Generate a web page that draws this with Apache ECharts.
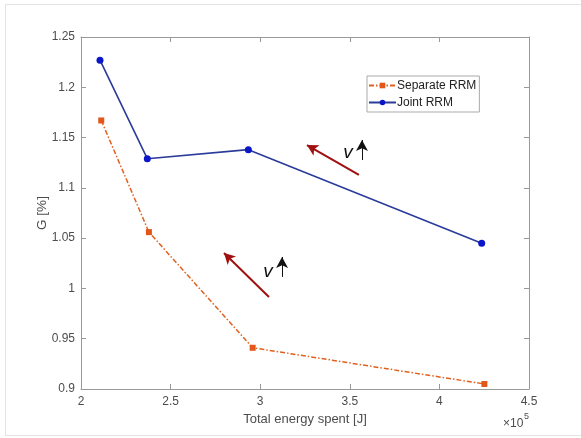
<!DOCTYPE html>
<html>
<head>
<meta charset="utf-8">
<script src="https://cdn.jsdelivr.net/npm/echarts@6/dist/echarts.min.js"></script>
<style>html,body{margin:0;padding:0;background:#fff}#c{width:581px;height:438px}</style>
</head>
<body>
<div id="c"></div>
<script>
// Data (energy in J, G in %)
const separateEnergy = [211300, 237900, 295800, 425100];
const separateG = [1.167, 1.056, 0.941, 0.905];
const jointEnergy = [210600, 237000, 293400, 423600];
const jointG = [1.227, 1.129, 1.138, 1.045];
const xTicks = ['2', '2.5', '3', '3.5', '4', '4.5'];
const yTicks = ['0.9', '0.95', '1', '1.05', '1.1', '1.15', '1.2', '1.25'];
// Annotation arrows [tail, head] in data space
const redArrows = [
  [[355100, 1.1128], [326100, 1.1426]],
  [[304900, 0.9915], [279800, 1.0352]]
];
const upArrows = [
  [[356800, 1.1277], [356800, 1.1476]],
  [[312200, 1.0114], [312200, 1.0313]]
];
const vLabels = [[349000, 1.1347], [304400, 1.0163]];

const chart = echarts.init(document.getElementById('c'));
const axisColor = '#999';
const textColor = '#4d4d4d';
const font = 'Liberation Sans, Arial, sans-serif';

const pairs = (xs, ys) => xs.map((x, i) => [x, ys[i]]);

chart.setOption({
  backgroundColor: '#fff',
  animation: false,
  textStyle: { fontFamily: font },
  grid: { left: 81, right: 52, top: 37, bottom: 49 },
  legend: {
    orient: 'vertical', left: 367, top: 76,
    padding: [3, 3, 3, 1], itemGap: 4,
    itemWidth: 27, itemHeight: 7,
    borderColor: '#aaa', borderWidth: 1, backgroundColor: '#fff',
    textStyle: { fontSize: 12, color: '#222', fontFamily: font, padding: [0, 0, 0, -4], lineHeight: 13 },
    data: ['Separate RRM', 'Joint RRM']
  },
  xAxis: [{
    type: 'value', min: 200000, max: 450000, interval: 50000,
    name: 'Total energy spent [J]', nameLocation: 'middle', nameGap: 23,
    nameTextStyle: { fontSize: 13, color: textColor, fontFamily: font },
    axisLine: { show: true, lineStyle: { color: axisColor } },
    axisTick: { show: true, inside: true, length: 5, lineStyle: { color: axisColor } },
    axisLabel: { fontSize: 12, color: textColor, margin: 7, fontFamily: font,
      formatter: v => xTicks[Math.round((v - 200000) / 50000)] },
    splitLine: { show: false }
  }, {
    type: 'value', position: 'top', min: 200000, max: 450000, interval: 50000,
    axisLine: { show: true, lineStyle: { color: axisColor } },
    axisTick: { show: true, inside: true, length: 5, lineStyle: { color: axisColor } },
    axisLabel: { show: false }, splitLine: { show: false }
  }],
  yAxis: [{
    type: 'value', min: 0.9, max: 1.25, interval: 0.05,
    name: 'G [%]', nameLocation: 'middle', nameGap: 32, nameMoveOverlap: false,
    nameTextStyle: { fontSize: 13.5, color: textColor, fontFamily: font },
    axisLine: { show: true, lineStyle: { color: axisColor } },
    axisTick: { show: true, inside: true, length: 5, lineStyle: { color: axisColor } },
    axisLabel: { fontSize: 12, color: textColor, margin: 6, fontFamily: font,
      formatter: v => yTicks[Math.round((v - 0.9) / 0.05)] },
    splitLine: { show: false }
  }, {
    type: 'value', position: 'right', min: 0.9, max: 1.25, interval: 0.05,
    axisLine: { show: true, lineStyle: { color: axisColor } },
    axisTick: { show: true, inside: true, length: 5, lineStyle: { color: axisColor } },
    axisLabel: { show: false }, splitLine: { show: false }
  }],
  series: [{
    name: 'Separate RRM', type: 'line', data: pairs(separateEnergy, separateG),
    symbol: 'rect', symbolSize: 6, showAllSymbol: true,
    lineStyle: { color: '#e2601f', width: 1.5, type: [5, 2, 1.5, 2] },
    itemStyle: { color: '#e2561a' }
  }, {
    name: 'Joint RRM', type: 'line', data: pairs(jointEnergy, jointG),
    symbol: 'circle', symbolSize: 7,
    lineStyle: { color: '#2b3b9a', width: 1.6 },
    itemStyle: { color: '#0a16c8' },
    markLine: {
      silent: true, animation: false,
      symbol: ['none', 'arrow'], symbolSize: [9, 11],
      label: { show: false },
      emphasis: { disabled: true },
      data: redArrows.map(a => [
        { coord: a[0], lineStyle: { color: '#a01010', width: 2, type: 'solid' }, itemStyle: { color: '#a01010' } },
        { coord: a[1] }
      ]).concat(upArrows.map(a => [
        { coord: a[0], symbolSize: [5, 6], lineStyle: { color: '#111', width: 1, type: 'solid' }, itemStyle: { color: '#111' } },
        { coord: a[1] }
      ]))
    },
    markPoint: {
      silent: true, symbol: 'circle', symbolSize: 0,
      label: { show: true, position: 'inside', formatter: 'v', fontSize: 19, fontStyle: 'italic',
        color: '#111', fontFamily: 'Liberation Sans, Arial, sans-serif' },
      data: vLabels.map(p => ({ coord: p }))
    }
  }],
  graphic: [
    { type: 'line', shape: { x1: 5, y1: 4.5, x2: 581, y2: 4.5 }, style: { stroke: '#e4e4e4', lineWidth: 1 }, silent: true },
    { type: 'line', shape: { x1: 5.5, y1: 4, x2: 5.5, y2: 436 }, style: { stroke: '#e4e4e4', lineWidth: 1 }, silent: true },
    { type: 'line', shape: { x1: 5, y1: 435.5, x2: 581, y2: 435.5 }, style: { stroke: '#e4e4e4', lineWidth: 1 }, silent: true },
    { type: 'text', left: 503, top: 418, silent: true,
      style: { text: '×10', fontSize: 12, fill: textColor, fontFamily: font } },
    { type: 'text', left: 524, top: 412, silent: true,
      style: { text: '5', fontSize: 9, fill: textColor, fontFamily: font } }
  ]
});
</script>
</body>
</html>
